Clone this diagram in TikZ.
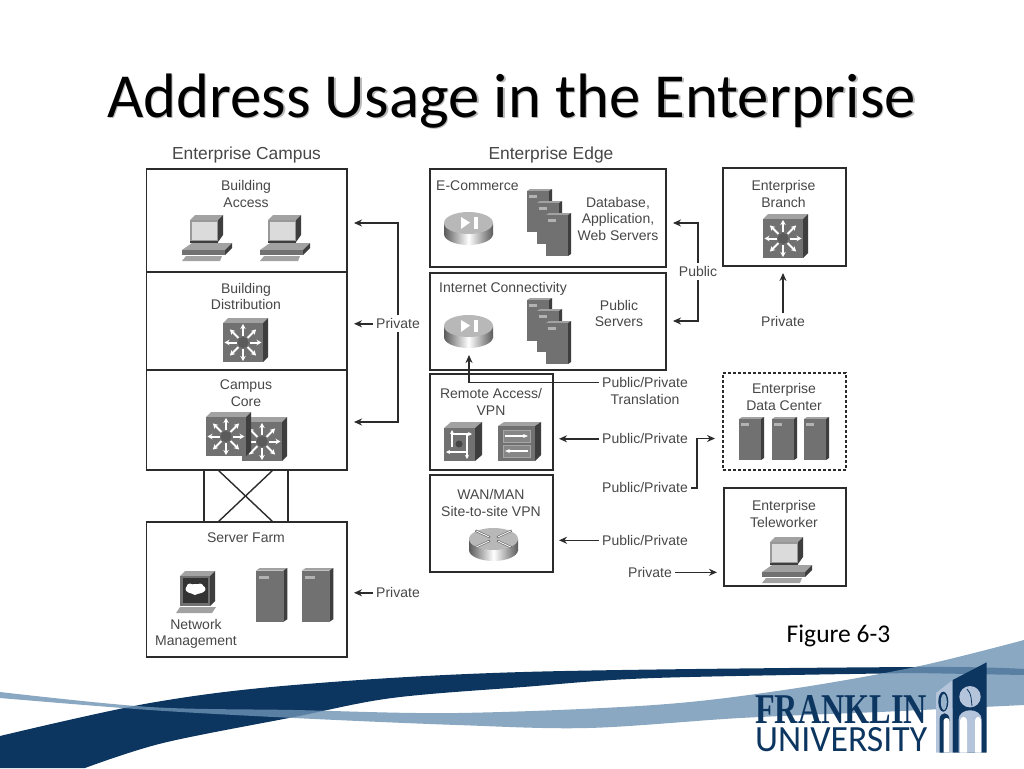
\documentclass[tikz,border=0pt]{standalone}
\usepackage{fontspec}
\usepackage{graphicx}
\usepackage{xcolor}
\setmainfont{Liberation Sans}
\newfontfamily\slidefont{Carlito}
\newfontfamily\crestfont{Liberation Serif}
\usetikzlibrary{arrows.meta,positioning}
\definecolor{navy}{HTML}{0C3560}
\definecolor{sky}{HTML}{6D92B3}
\definecolor{pale}{HTML}{B4C4DA}
\definecolor{ink}{HTML}{2B2B2B}
\definecolor{labelgray}{HTML}{474747}
\definecolor{icontop}{HTML}{A2A2A2}
\definecolor{iconfront}{HTML}{717171}
\definecolor{iconside}{HTML}{3E3E3E}
\tikzset{
	tier/.style={draw=ink,line width=1.4pt,fill=white,inner sep=0pt},
	txt/.style={text=labelgray,font=\fontsize{14}{16.5}\selectfont,align=center,inner sep=3pt,yshift=-.8pt},
	head/.style={text=labelgray,font=\fontsize{17.4}{20}\selectfont,inner sep=0pt},
	link/.style={draw=ink,line width=1.4pt},
	routerbody/.style={left color=iconfront!80!black,right color=iconfront!80!black,middle color=white},
	pics/pcicon/.style={code={
		\fill[icontop] (8,5) -- (13,0) -- (41,0) -- (36,5) -- cycle;
		\fill[iconside] (36,5) -- (41,0) -- (41,20) -- (36,27) -- cycle;
		\fill[iconside] (8,25) rectangle (36,27.5);
		\fill[black!40] (8,5) rectangle (36,26);
		\fill[black!14] (10,7) rectangle (35,25);
		\fill[icontop] (0,35) -- (10,28) -- (50,28) -- (43,35) -- cycle;
		\fill[iconfront] (0,35) rectangle (43,40);
		\fill[iconside] (43,35) -- (50,28) -- (50,33) -- (43,40) -- cycle;
		\fill[icontop] (4,41) -- (40,41) -- (38,46) -- (0,46) -- cycle;
	}},
	pics/switchicon/.style={code={
		\fill[icontop] (0,5) -- (5,0) -- (45,0) -- (40,5) -- cycle;
		\fill[iconside] (40,5) -- (45,0) -- (45,39) -- (40,44) -- cycle;
		\fill[iconfront] (0,5) rectangle (40,44);
		\fill[iconfront!80!black] (20,24.5) circle (5.5);
		\foreach \ang in {0,45,...,315}
			\draw[white,line width=2pt,-{Stealth[length=5pt,width=5.5pt]}] (20,24.5) ++(\ang:6.5) -- ++(\ang:12);
	}},
	pics/routerbase/.style={code={
		\shade[routerbody] (24.5,22) ellipse [x radius=24.5,y radius=11];
		\shade[routerbody] (0,11) rectangle (49,22);
		\fill[black!28] (24.5,11) ellipse [x radius=24.5,y radius=11];
	}},
	pics/routericon/.style={code={
		\pic {routerbase};
		\fill[white] (17,5) -- (26,10.5) -- (17,17) -- cycle;
		\fill[white] (30,5) rectangle (34,17);
	}},
	pics/wanicon/.style={code={
		\pic {routerbase};
		\foreach \ang in {25,155,205,335}
			\draw[iconfront,line width=2.2pt] (24.5,11) ++(\ang:4) -- ++(\ang:16);
		\foreach \ang in {25,155,205,335}
			\draw[white,line width=.8pt] (24.5,11) ++(\ang:5) -- ++(\ang:14);
	}},
	pics/servericon/.style={code={
		\fill[icontop] (0,2) -- (3,0) -- (25,0) -- (22,2) -- cycle;
		\fill[iconside] (22,2) -- (25,0) -- (25,41) -- (22,43) -- cycle;
		\fill[iconfront] (0,2) rectangle (22,43);
		\fill[black!30] (2,6) rectangle (10,9);
	}},
	pics/mgmticon/.style={code={
		\fill[icontop] (4,5) -- (9,0) -- (39,0) -- (34,5) -- cycle;
		\fill[iconside] (34,5) -- (39,0) -- (39,30) -- (34,35) -- cycle;
		\fill[iconfront] (4,5) rectangle (34,35);
		\fill[black!80] (7,7) rectangle (32,32);
		\fill[white] (19.5,18) ellipse [x radius=10,y radius=5];
		\fill[white] (14,16) circle (3.5) (24,16) circle (3.5) (19,20) circle (4);
		\fill[icontop] (4,36) -- (34,36) -- (40,36) -- (36,42) -- (0,42) -- cycle;
	}},
	pics/cubeicon/.style={code={
		\fill[icontop] (0,6) -- (7,0) -- (38,0) -- (31,6) -- cycle;
		\fill[iconside] (31,6) -- (38,0) -- (38,33) -- (31,39) -- cycle;
		\fill[iconfront] (0,6) rectangle (31,39);
		\fill[iconfront!60!black] (15,22) circle (3.5);
		\draw[white,line width=1.3pt,-{Stealth[length=4pt,width=4pt]}] (8,25) -- (8,8);
		\draw[white,line width=1.3pt,-{Stealth[length=4pt,width=4pt]}] (8,12) -- (28,12);
		\draw[white,line width=1.3pt,-{Stealth[length=4pt,width=4pt]}] (23,12) -- (23,37);
		\draw[white,line width=1.3pt,-{Stealth[length=4pt,width=4pt]}] (23,30) -- (2,30);
	}},
	pics/vpnicon/.style={code={
		\fill[icontop] (0,4) -- (6,0) -- (43,0) -- (37,4) -- cycle;
		\fill[iconside] (37,4) -- (43,0) -- (43,33) -- (37,39) -- cycle;
		\fill[iconfront] (0,4) rectangle (37,39);
		\draw[black!35,fill=iconfront!85!white,line width=.8pt] (5,8) rectangle (32,20);
		\draw[black!35,fill=iconfront!85!white,line width=.8pt] (5,23) rectangle (32,35);
		\draw[white,line width=1.3pt,-{Stealth[length=5pt,width=4pt]}] (7,14) -- (30,14);
		\draw[white,line width=1.3pt,-{Stealth[length=5pt,width=4pt]}] (30,29) -- (7,29);
	}},
}
\begin{document}
\begin{tikzpicture}
		[x=1pt,y=-1pt,>={Stealth[length=8pt,width=7pt]}]
		\useasboundingbox (0,0) rectangle (1024,768);
		% swooshes under the logo
		\fill[navy] plot[smooth,tension=.55] coordinates {(0,736) (150,703) (294,685) (523,672) (915,667) (1024,669)}
			-- (1024,675) -- plot[smooth,tension=.55] coordinates {(915,673) (654,678) (523,687) (392,698) (294,717) (163,743) (85,768)}
			-- (0,768) -- cycle;
		\fill[sky,opacity=.8] plot[smooth,tension=.55] coordinates {(0,692) (150,707) (294,710) (457,713) (654,705) (784,690) (915,667) (1024,640)}
			-- (1024,705) -- plot[smooth,tension=.55] coordinates {(880,712) (740,718) (588,728) (457,725) (294,718) (150,710) (0,698)} -- cycle;
		% title
		\node[text=black!28,font=\slidefont\fontsize{62.7}{70}\selectfont,inner sep=0pt] (titleshadow) at (513,102.5) {Address Usage in the Enterprise};
		\node[text=black,font=\slidefont\fontsize{62.7}{70}\selectfont,inner sep=0pt] (title) at (511.5,101) {Address Usage in the Enterprise};
		\node[font=\slidefont\fontsize{25.5}{28}\selectfont,inner sep=0pt] (figlabel) at (838.5,636) {Figure 6-3};
		% boxes
		\node[head] (campushead) at (246.5,155) {Enterprise Campus};
		\node[head] (edgehead) at (551,155) {Enterprise Edge};
		\node[tier,minimum width=200.5pt,minimum height=103pt] (access) at (246.7,220.5) {};
		\node[tier,minimum width=200.5pt,minimum height=98pt] (distrib) at (246.7,321) {};
		\node[tier,minimum width=200.5pt,minimum height=100pt] (core) at (246.7,420) {};
		\node[tier,minimum width=200.5pt,minimum height=135pt] (farm) at (246.7,589.5) {};
		\node[tier,minimum width=236pt,minimum height=98pt] (ecom) at (548,218) {};
		\node[tier,minimum width=236pt,minimum height=97pt] (inet) at (548,321.5) {};
		\node[tier,minimum width=123pt,minimum height=96pt] (remote) at (491.5,422) {};
		\node[tier,minimum width=123pt,minimum height=97pt] (wan) at (491.5,523.5) {};
		\node[tier,minimum width=123pt,minimum height=98pt] (branch) at (784.5,217) {};
		\node[tier,dash pattern=on 3pt off 2pt,minimum width=123pt,minimum height=97pt] (datacenter) at (784.5,421.5) {};
		\node[tier,minimum width=122pt,minimum height=98pt] (teleworker) at (785,537) {};
		% box texts
		\node[txt] (accesstxt) at (246,193) {Building\\Access};
		\node[txt] (distribtxt) at (246,295.5) {Building\\Distribution};
		\node[txt] (coretxt) at (246,392.5) {Campus\\Core};
		\node[txt] (farmtxt) at (246,537) {Server Farm};
		\node[txt] (mgmttxt) at (196,633) {Network\\Management};
		\node[txt,anchor=west,inner sep=0pt] (ecomtxt) at (436,185) {E-Commerce};
		\node[txt] (ecomsrv) at (618,218) {Database,\\Application,\\Web Servers};
		\node[txt,anchor=west,inner sep=0pt] (inettxt) at (439,288) {Internet Connectivity};
		\node[txt] (inetsrv) at (619,312.5) {Public\\Servers};
		\node[txt] (remotetxt) at (491,401) {Remote Access/\\VPN};
		\node[txt] (wantxt) at (491,502) {WAN/MAN\\Site-to-site VPN};
		\node[txt] (branchtxt) at (783.5,193) {Enterprise\\Branch};
		\node[txt] (dctxt) at (784,396) {Enterprise\\Data Center};
		\node[txt] (teletxt) at (784,513) {Enterprise\\Teleworker};
		% icons
		\pic at (182,215) {pcicon};
		\pic at (260,215) {pcicon};
		\pic at (762,537) {pcicon};
		\pic at (223,318) {switchicon};
		\pic at (242,417) {switchicon};
		\pic at (206,412) {switchicon};
		\pic at (763,214) {switchicon};
		\pic at (444,212) {routericon};
		\pic at (444,315) {routericon};
		\pic at (469,528) {wanicon};
		\foreach \xpos/\ypos in {527/189,537/201,546/213,527/298,537/309,546/321,739/417,772/417,804/417}
			\pic at (\xpos,\ypos) {servericon};
		\pic[scale=1.25] at (256,568) {servericon};
		\pic[scale=1.25] at (302,568) {servericon};
		\pic at (176,571) {mgmticon};
		\pic at (444,422) {cubeicon};
		\pic at (498,422) {vpnicon};
		% labels on the connectors
		\node[txt] (pvtcampus) at (398,323) {Private};
		\node[txt] (pvtfarm) at (398,592) {Private};
		\node[txt] (publink) at (698,271) {Public};
		\node[txt] (pvtbranch) at (783,321) {Private};
		\node[txt] (transone) at (645,381.5) {Public/Private};
		\node[txt,inner sep=0pt] (transtwo) at (645,398.5) {Translation};
		\node[txt] (ppremote) at (645,438) {Public/Private};
		\node[txt] (ppdata) at (645,487) {Public/Private};
		\node[txt] (ppwan) at (645,539.5) {Public/Private};
		\node[txt] (pvttele) at (650,571.5) {Private};
		% ends of the connectors
		\coordinate (tipaccess) at (354,223);
		\coordinate (tipdistrib) at (354,323.8);
		\coordinate (tipcore) at (354,422);
		\coordinate (tipfarm) at (354,592.8);
		\coordinate (tipecom) at (673,223);
		\coordinate (tipinet) at (673,321);
		\coordinate (tipbranch) at (783,273);
		\coordinate (tiprouter) at (469,355);
		\coordinate (tipremote) at (559,438.8);
		\coordinate (tipwan) at (559,540.3);
		\coordinate (tipdata) at (715,438.5);
		\coordinate (benddata) at (697,438.5);
		\coordinate (tiptele) at (717,572.3);
		\draw[link,->] (pvtcampus.north) |- (tipaccess);
		\draw[link,->] (pvtcampus.south) |- (tipcore);
		\draw[link,->] (pvtcampus.west) -- (tipdistrib);
		\draw[link,->] (pvtfarm.west) -- (tipfarm);
		\draw[link,->] (publink.north) |- (tipecom);
		\draw[link,->] (publink.south) |- (tipinet);
		\draw[link,->] (pvtbranch.north) -- (tipbranch);
		\draw[link,->] (transone.west) -| (tiprouter);
		\draw[link,->] (ppremote.west) -- (tipremote);
		\draw[link,->] (ppwan.west) -- (tipwan);
		\draw[link,->] (pvttele.east) -- (tiptele);
		\draw[link,->] (ppdata.east) -| (benddata) -- (tipdata);
		% links between core and server farm
		\coordinate (coreleft) at (204,470);
		\coordinate (coreright) at (288,470);
		\coordinate (farmleft) at (204,522);
		\coordinate (farmright) at (288,522);
		\coordinate (crossa) at (218,470);
		\coordinate (crossb) at (273,470);
		\coordinate (crossc) at (218,522);
		\coordinate (crossd) at (273,522);
		\path[link]
		(coreleft) edge (farmleft)
		(coreright) edge (farmright)
		(crossa) edge (crossd)
		(crossb) edge (crossc)
		;
		% logo
		\fill[pale] (936,693) -- (952.7,680) -- (952.7,752.7) -- (936,752.7) -- cycle;
		\fill[navy] (952.7,680) -- (986.7,662.3) -- (986.7,752.7) -- (952.7,752.7) -- cycle;
		\fill[pale] (970,696.7) circle (10.7);
		\draw[navy,line width=.8pt] (967,689) .. controls (972,694) and (971,700) .. (972,706);
		\fill[pale] (958.5,752.7) -- (958.5,720) .. controls (958.5,707) and (981.7,707) .. (981.7,720) -- (981.7,752.7) -- cycle;
		\fill[white] (960,752.7) -- (960,722) .. controls (960,715) and (967,715) .. (967,722) -- (967,752.7) -- cycle;
		\fill[white] (975,752.7) -- (975,722) .. controls (975,715) and (981,715) .. (981,722) -- (981,752.7) -- cycle;
		\fill[navy] (943.3,701.7) ellipse [x radius=5,y radius=10];
		\fill[sky!70!white] (943.8,702) ellipse [x radius=3,y radius=8];
		\fill[navy] (939.5,752.7) -- (939.5,720) .. controls (939.5,711) and (949.5,711) .. (949.5,720) -- (949.5,752.7) -- cycle;
		\fill[white] (943.5,752.7) -- (943.5,721) .. controls (943.5,717) and (949.5,717) .. (949.5,721) -- (949.5,752.7) -- cycle;
		\node[text=navy,inner sep=0pt,anchor=west] (franklin) at (755,709) {\resizebox{172pt}{28pt}{\crestfont\bfseries FRANKLIN}};
		\node[text=navy,inner sep=0pt,anchor=west] (university) at (755,740) {\resizebox{172pt}{24pt}{\slidefont UNIVERSITY}};
	\end{tikzpicture}
\end{document}
